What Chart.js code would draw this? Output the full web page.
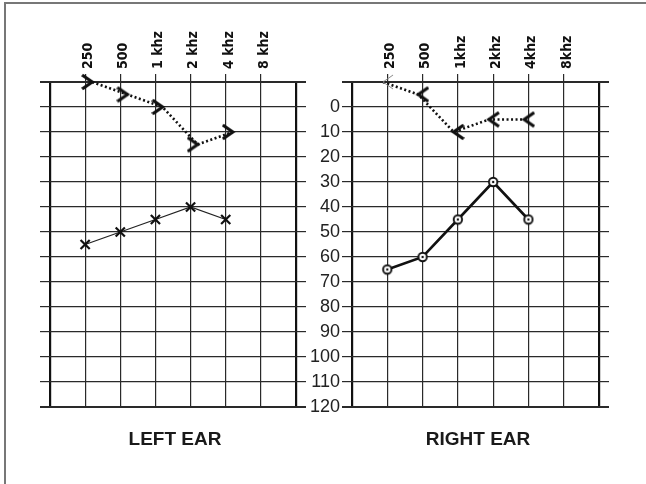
<!DOCTYPE html>
<html><head><meta charset="utf-8">
<script src="https://cdn.jsdelivr.net/npm/chart.js@4/dist/chart.umd.min.js"></script>
<style>
html,body{margin:0;padding:0;background:#fff;width:646px;height:484px;overflow:hidden;}
#frame{position:absolute;left:4px;top:2px;width:700px;height:600px;border-left:2px solid #777;border-top:2px solid #777;}
.wrap{position:absolute;top:0;width:320px;height:430px;}
.title{position:absolute;font:bold 19px "Liberation Sans",Arial,sans-serif;color:#1a1a1a;transform:translateX(-50%);white-space:nowrap;line-height:normal;}
</style></head><body>
<div id="frame"></div>
<div class="wrap" style="left:0"><canvas id="leftChart" width="320" height="430"></canvas></div>
<div class="wrap" style="left:300px"><canvas id="rightChart" width="320" height="430"></canvas></div>
<div class="title" style="left:175px;top:428px">LEFT EAR</div>
<div class="title" style="left:478px;top:428px">RIGHT EAR</div>
<script>
// ---- data ----
const freqLabelsLeft  = ['250','500','1 khz','2 khz','4 khz','8 khz'];
const freqLabelsRight = ['250','500','1khz','2khz','4khz','8khz'];
const testedFreqIdx   = [0,1,2,3,4];           // 250, 500, 1k, 2k, 4k
const leftAir   = [55,50,45,40,45];            // X markers
const leftBone  = [-10,-5,0,15,10];            // > markers
const rightAir  = [65,60,45,30,45];            // O markers
const rightBone = [-10,-5,10,5,5];             // < markers
const dbMin = -10, dbMax = 120, dbStep = 10;

// ---- marker images ----
function chevron(dir, lw, color){
  const c=document.createElement('canvas'); c.width=22; c.height=18;
  const g=c.getContext('2d'); g.strokeStyle=color; g.lineWidth=lw; g.lineJoin='miter'; g.lineCap='butt';
  g.beginPath();
  if(dir==='>'){ g.moveTo(1,2); g.lineTo(11,9); g.lineTo(1,16); }
  else { g.moveTo(21,2); g.lineTo(11,9); g.lineTo(21,16); }
  g.stroke(); return c;
}
function ringDot(){
  const c=document.createElement('canvas'); c.width=12; c.height=12;
  const g=c.getContext('2d');
  g.beginPath(); g.arc(6,6,4.2,0,Math.PI*2); g.fillStyle='#fff'; g.fill();
  g.lineWidth=1.9; g.strokeStyle='#111'; g.stroke();
  g.beginPath(); g.arc(6,6,1.2,0,Math.PI*2); g.fillStyle='#111'; g.fill();
  return c;
}
const gt = chevron('>',3.2,'#111');
const lt = chevron('<',3.2,'#111');
const ltThin = chevron('<',1,'#888');
const ring = ringDot();

const pts = vals => vals.map((v,i)=>({x:testedFreqIdx[i], y:v}));

function scales(labels, showY, yLeftW, yRightW, shift){
  const isEdgeX = c => c.tick && (c.tick.value===-1 || c.tick.value===6);
  const isEdgeY = c => c.tick && (c.tick.value===dbMin || c.tick.value===dbMax);
  const yGrid = {
    color:'#2a2a2a', tickColor:'#2a2a2a',
    lineWidth: c => isEdgeY(c)?2:1.2,
    tickWidth: c => isEdgeY(c)?2:1.2,
    tickLength:10, drawTicks:true
  };
  return {
    x:{type:'linear', position:'top', min:-1, max:6,
       border:{display:false},
       grid:{color: c=>isEdgeX(c)?'#111':'#2a2a2a', lineWidth: c=>isEdgeX(c)?2.2:1.2,
             tickColor: c=>isEdgeX(c)?'rgba(0,0,0,0)':'#2a2a2a', tickLength:8, tickWidth:1.2},
       ticks:{stepSize:1, autoSkip:false, minRotation:90, maxRotation:90, padding:5, labelOffset:20,
              color:'#111', font:{family:'"Liberation Sans Narrow","DejaVu Sans Condensed",sans-serif', size:14, weight:'bold'},
              callback: v => labels[v] ?? ''},
       afterFit: s => { s.height = 82; }},
    xs:{type:'linear', display:false, min:-1-shift, max:6-shift},
    y:{type:'linear', position:'left', reverse:true, min:dbMin, max:dbMax,
       border:{display:false}, grid:yGrid,
       ticks:{stepSize:dbStep, display:showY, padding:2, color:'#222',
              font:{family:'"Liberation Sans",Arial,sans-serif', size:18},
              callback: v => v===dbMin ? '' : String(v)},
       afterFit: s => { s.width = yLeftW; }},
    yR:{type:'linear', position:'right', reverse:true, min:dbMin, max:dbMax,
       border:{display:false}, grid:Object.assign({}, yGrid, {drawOnChartArea:false}),
       ticks:{stepSize:dbStep, display:false},
       afterFit: s => { s.width = yRightW; }}
  };
}

const common = {responsive:false, animation:false, events:[],
  layout:{padding:{top:0,left:0,right:0,bottom:23}},
  plugins:{legend:{display:false}, tooltip:{enabled:false}}};

new Chart(document.getElementById('leftChart'), {
  type:'line',
  data:{datasets:[
    {data:pts(leftAir), borderColor:'#222', borderWidth:1.3, tension:0, clip:false,
     pointStyle:'crossRot', pointRadius:6.5, pointBorderWidth:2.2, pointBorderColor:'#111', pointBackgroundColor:'#111'},
    {data:pts(leftBone), xAxisID:'xs', borderColor:'#111', borderWidth:2.6, borderDash:[2,2.5], tension:0, clip:false,
     pointStyle:gt, pointRadius:8}
  ]},
  options:Object.assign({}, common, {scales:scales(freqLabelsLeft, false, 50, 24, 0.2)})
});

new Chart(document.getElementById('rightChart'), {
  type:'line',
  data:{datasets:[
    {data:pts(rightAir), borderColor:'#111', borderWidth:2.6, tension:0, clip:false,
     pointStyle:ring, pointRadius:6},
    {data:pts(rightBone), xAxisID:'xs', borderColor:'#111', borderWidth:2.6, borderDash:[2,2.5], tension:0, clip:false,
     pointStyle:[ltThin, lt, lt, lt, lt], pointRadius:8}
  ]},
  options:Object.assign({}, common, {scales:scales(freqLabelsRight, true, 52, 21, -0.12)})
});
</script>
</body></html>
